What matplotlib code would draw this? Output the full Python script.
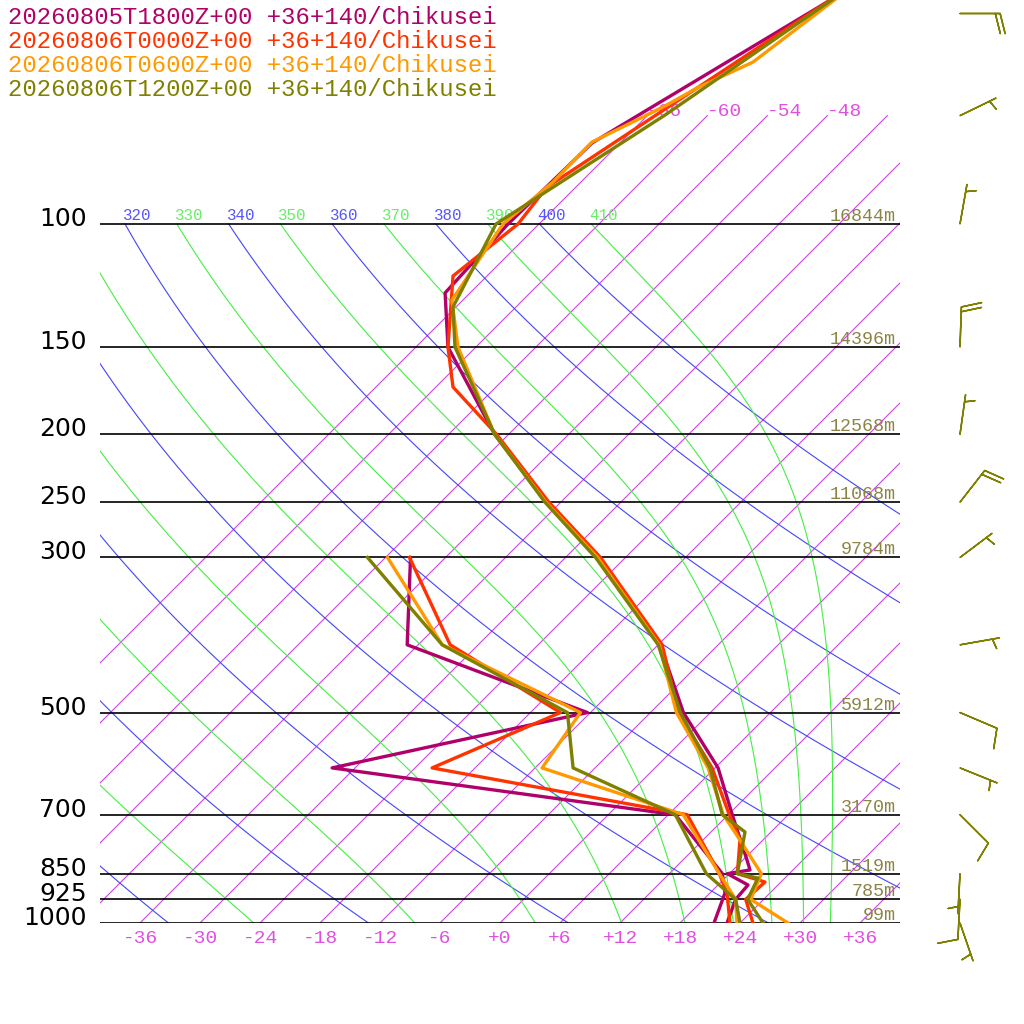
import numpy as np
import matplotlib
matplotlib.use("Agg")
import matplotlib.pyplot as plt
import matplotlib.transforms as mtrans

# soundings: temperature (right branch) and dew point (left branch), hPa / degC
labels = ['20260805T1800Z+00 +36+140/Chikusei',
          '20260806T0000Z+00 +36+140/Chikusei',
          '20260806T0600Z+00 +36+140/Chikusei',
          '20260806T1200Z+00 +36+140/Chikusei']
colors = ['#b0006a', '#ff3300', '#ff9900', '#808000']

p_t18 = [47, 76.6, 100, 125.5, 150, 200, 250, 300, 400, 500, 600, 700, 812.6, 839.8, 850, 882.3, 925, 1000]
t_t18 = [-58.9, -68.8, -69.1, -68.5, -62.8, -49.4, -37.4, -26.8, -11.8, -2.7, 6.3, 12.4, 18.4, 19.7, 17.8, 21.0, 21.2, 22.7]
p_t00 = [47, 88.6, 100, 118.7, 150, 171.1, 200, 250, 300, 400, 500, 600, 700, 760.8, 850, 873.7, 925, 1000]
t_t00 = [-59.0, -68.9, -68.1, -69.4, -62.8, -58.3, -49.2, -37.2, -26.5, -11.6, -3.2, 5.7, 12.1, 15.7, 18.8, 22.4, 22.2, 25.3]
p_t06 = [47, 58.7, 63.9, 67.8, 76.4, 87.1, 100, 128.5, 150, 200, 250, 300, 400, 500, 600, 700, 753.3, 850, 925, 1000]
t_t06 = [-58.7, -60.8, -63.8, -65.2, -68.9, -68.8, -69.6, -67.1, -61.8, -49.4, -37.5, -26.8, -11.9, -3.4, 5.3, 11.5, 15.2, 21.2, 22.7, 28.8]
p_t12 = [47, 69.9, 100, 131.5, 150, 200, 250, 300, 400, 500, 600, 700, 741, 850, 862.3, 925, 1000]
t_t12 = [-58.9, -64.3, -70.3, -66.3, -62.1, -49.4, -37.6, -27.0, -12.0, -3.0, 5.5, 11.4, 15.4, 18.8, 21.3, 22.4, 26.3]

p_dew = [300, 400, 500, 600, 700, 850, 906, 1000]
p_dew06 = [300, 400, 500, 600, 700, 850, 925, 1000]
td_t18 = [-45.5, -37.1, -12.3, -32.3, 6.7, 17.3, 19.5, 21.4]
td_t00 = [-45.6, -32.8, -15.0, -22.3, 7.9, 17.0, 19.7, 23.0]
td_t06 = [-47.8, -33.6, -13.0, -11.3, 7.5, 17.0, 21.2, 23.7]
td_t12 = [-49.8, -33.6, -14.3, -8.2, 6.7, 15.7, 21.2, 24.0]

# pressure lines and their heights
p_lines = [100, 150, 200, 250, 300, 500, 700, 850, 925, 1000]
h_lines = ['16844m', '14396m', '12568m', '11068m', '9784m', '5912m', '3170m', '1519m', '785m', '99m']

# winds (direction from, knots)
wind_p = [50, 70, 100, 150, 200, 250, 300, 400, 500, 600, 700, 850, 925, 1000]
wind_dir = [90, 64, 10, 2, 8, 38, 53, 80, 113, 112, 135, 183, 183, 161]
wind_kt = [20, 5, 5, 20, 5, 20, 5, 5, 10, 5, 10, 5, 10, 5]

isotherms = list(range(-66, 37, 6))
dry_thetas = list(range(240, 401, 20))
moist_thetas = list(range(250, 411, 20))

SKEW = 30.36   # degC of shift per ln(1000/p)
P_TOP = 1000 * np.exp(-923 / 303.6)
KAPPA = 0.2857


def skx(t, p):
    return np.asarray(t, float) + SKEW * np.log(1000.0 / np.asarray(p, float))


def moist_adiabat(theta, p):
    # pseudo-adiabat that passes through theta at 100 hPa, integrated downward
    Rd, cp, Lv, eps = 287.04, 1005.7, 2.501e6, 0.622

    def f(T, lp):
        pp = np.exp(lp)
        e = 6.112 * np.exp(17.67 * (T - 273.15) / (T - 29.65))
        r = eps * e / (pp - e)
        return (Rd * T + Lv * r) / (cp + Lv ** 2 * r * eps / (Rd * T ** 2))

    lps = np.log(p)
    out = [theta * (p[0] / 1000.0) ** KAPPA]
    for i in range(1, len(p)):
        h = lps[i] - lps[i - 1]
        T = out[-1]
        k1 = f(T, lps[i - 1])
        k2 = f(T + h * k1 / 2, lps[i - 1] + h / 2)
        k3 = f(T + h * k2 / 2, lps[i - 1] + h / 2)
        k4 = f(T + h * k3, lps[i])
        out.append(T + h * (k1 + 2 * k2 + 2 * k3 + k4) / 6)
    return np.array(out) - 273.15


fig = plt.figure(figsize=(10.24, 10.24), dpi=100)
ax = fig.add_axes([100 / 1024, 101 / 1024, 800 / 1024, 923 / 1024])
ax.set_yscale('log')
ax.set_ylim(1000, P_TOP)
ax.set_xlim(-40, 40)
ax.axis('off')

mono = 'Liberation Mono'

# isotherms
for t0 in isotherms:
    pp = np.array([1000, 70])
    ax.plot(skx(t0, pp), pp, color='#cc44e6', lw=0.8, zorder=1)
    xe = skx(t0, 70)
    if xe < 35:
        ax.text(xe, 70, '%+d' % t0, color='#e050e0', fontsize=14, family=mono,
                ha='left', va='baseline', zorder=1)
for t0 in range(-36, 37, 6):
    ax.text(t0, 1000, '%+d' % t0, color='#e050e0', fontsize=14, family=mono, ha='center',
            va='baseline', transform=mtrans.offset_copy(ax.transData, fig=fig, y=-20, units='dots'))

# dry adiabats
pa = np.logspace(np.log10(100), np.log10(1000), 120)
for th in dry_thetas:
    tt = th * (pa / 1000.0) ** KAPPA - 273.15
    ax.plot(skx(tt, pa), pa, color='#4444ff', lw=0.8, zorder=1)
    if skx(tt[0], 100) > -40:
        ax.text(skx(tt[0], 100), 100, str(th), color='#5555ff', fontsize=11.3, family=mono,
                ha='left', va='baseline',
                transform=mtrans.offset_copy(ax.transData, fig=fig, x=-2, y=4, units='dots'))

# moist adiabats
for th in moist_thetas:
    tt = moist_adiabat(th, pa)
    ax.plot(skx(tt, pa), pa, color='#44ee44', lw=0.8, zorder=1)
    if skx(tt[0], 100) > -40:
        ax.text(skx(tt[0], 100), 100, str(th), color='#66ee66', fontsize=11.3, family=mono,
                ha='left', va='baseline',
                transform=mtrans.offset_copy(ax.transData, fig=fig, x=-2, y=4, units='dots'))

# pressure lines, labels and heights
blend = mtrans.blended_transform_factory(ax.transAxes, ax.transData)
for pl, hl in zip(p_lines, h_lines):
    ax.plot([-40, 40], [pl, pl], color='black', lw=1.2, zorder=2)
    ax.text(-13 / 800, pl, str(pl), fontsize=18, color='black', ha='right', va='baseline',
            transform=mtrans.offset_copy(blend, fig=fig, y=-2, units='dots'), clip_on=False)
    ax.text(0.995, pl, hl, fontsize=13.2, family=mono, color='#8c8446', ha='right', va='baseline',
            transform=mtrans.offset_copy(blend, fig=fig, y=3, units='dots'), zorder=2)

# soundings
temps = [(p_t18, t_t18), (p_t00, t_t00), (p_t06, t_t06), (p_t12, t_t12)]
dews = [(p_dew, td_t18), (p_dew, td_t00), (p_dew06, td_t06), (p_dew06, td_t12)]
for (pt, tt), (pd, td), c in zip(temps, dews, colors):
    ax.plot(skx(tt, pt), pt, color=c, lw=2.4, zorder=5)
    ax.plot(skx(td, pd), pd, color=c, lw=2.4, zorder=5)

for i, (lab, c) in enumerate(zip(labels, colors)):
    fig.text(8 / 1024, 1 - (17 + 24 * i) / 1024, lab, color=c, fontsize=17.2, family=mono,
             ha='left', va='center')

# wind barbs column
axw = fig.add_axes([900 / 1024, 101 / 1024, 124 / 1024, 923 / 1024])
axw.set_yscale('log')
axw.set_ylim(1000, P_TOP)
axw.set_xlim(0, 124)
axw.axis('off')
wd = np.radians(wind_dir)
u = -np.array(wind_kt) * np.sin(wd)
v = -np.array(wind_kt) * np.cos(wd)
axw.barbs(np.full(len(wind_p), 60.0), wind_p, u, v, length=7.6, color='#808000',
          linewidth=1.1, sizes=dict(spacing=0.12, height=0.5, width=0.25), clip_on=False)

plt.savefig('out.png', dpi=100)
